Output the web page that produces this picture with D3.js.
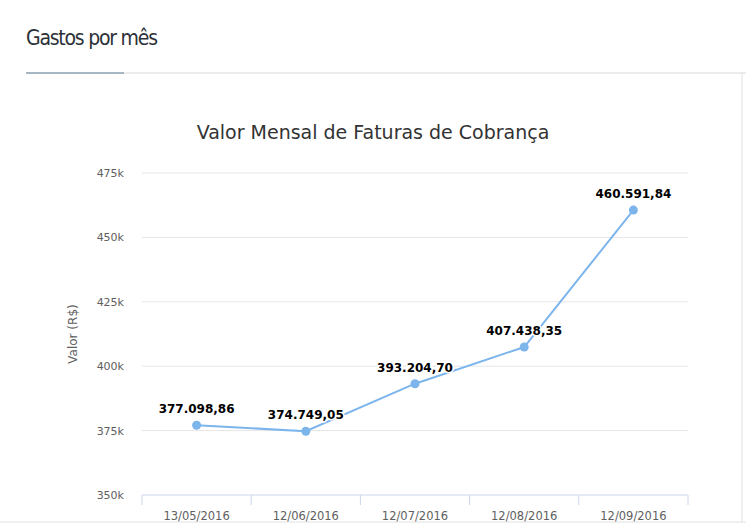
<!DOCTYPE html>
<html><head><meta charset="utf-8">
<script src="https://cdn.jsdelivr.net/npm/d3@7"></script>
<style>body{margin:0;background:#fff}</style>
</head><body>
<svg id="c" width="746" height="526"></svg>
<script>
const categories = ['13/05/2016', '12/06/2016', '12/07/2016', '12/08/2016', '12/09/2016'];
const values = [377098.86, 374749.05, 393204.70, 407438.35, 460591.84];
const labels = ['377.098,86', '374.749,05', '393.204,70', '407.438,35', '460.591,84'];
const yTicks = [350000, 375000, 400000, 425000, 450000, 475000];

const svg = d3.select('#c');
// panel header
svg.append('text').attr('x', 26).attr('y', 45)
    .style('font-family', 'DejaVu Sans Condensed, DejaVu Sans').style('font-stretch', 'condensed')
    .style('font-size', '21px').attr('fill', '#2c3138').attr('textLength', 132)
    .text('Gastos por mês');
svg.append('line').attr('x1', 26).attr('x2', 746).attr('y1', 73).attr('y2', 73).attr('stroke', '#e6e6e6').attr('stroke-width', 1.5);
svg.append('line').attr('x1', 26).attr('x2', 124).attr('y1', 73).attr('y2', 73).attr('stroke', '#8fa4b5').attr('stroke-width', 1.5);
svg.append('line').attr('x1', 0).attr('x2', 746).attr('y1', 522).attr('y2', 522).attr('stroke', '#e0e0e0');
svg.append('line').attr('x1', 742).attr('x2', 742).attr('y1', 73).attr('y2', 522).attr('stroke', '#e0e0e0');

const font = 'DejaVu Sans, Verdana, sans-serif';
svg.append('text').attr('x', 373).attr('y', 139).attr('text-anchor', 'middle')
    .style('font-family', font).style('font-size', '19px').attr('fill', '#333')
    .text('Valor Mensal de Faturas de Cobrança');

const x = d3.scaleBand().domain(categories).range([142, 688]);
const y = d3.scaleLinear().domain([350000, 475000]).range([495, 173]);

// grid
svg.append('g').selectAll('line').data(yTicks.slice(1)).join('line')
    .attr('x1', 142).attr('x2', 688).attr('y1', d => y(d)).attr('y2', d => y(d))
    .attr('stroke', '#e6e6e6');
svg.append('g').selectAll('text').data(yTicks).join('text')
    .attr('x', 124).attr('y', d => y(d) + 4).attr('text-anchor', 'end')
    .style('font-family', font).style('font-size', '11px').attr('fill', '#606060')
    .text(d => d / 1000 + 'k');
svg.append('text').attr('transform', 'translate(77,334) rotate(-90)').attr('text-anchor', 'middle')
    .style('font-family', font).style('font-size', '12px').attr('fill', '#606060').text('Valor (R$)');

// x axis
const xa = svg.append('g').attr('transform', 'translate(0,495)');
xa.append('line').attr('x1', 142).attr('x2', 688).attr('stroke', '#ccd6eb');
xa.selectAll('.tk').data(categories.concat(['end'])).join('line')
    .attr('x1', (d, i) => 142 + i * x.bandwidth()).attr('x2', (d, i) => 142 + i * x.bandwidth())
    .attr('y1', 0).attr('y2', 10).attr('stroke', '#ccd6eb');
xa.selectAll('text').data(categories).join('text')
    .attr('x', d => x(d) + x.bandwidth() / 2).attr('y', 25).attr('text-anchor', 'middle')
    .style('font-family', font).style('font-size', '11.5px').attr('fill', '#606060').text(d => d);

const cx = (d, i) => x(categories[i]) + x.bandwidth() / 2;
svg.append('path').datum(values)
    .attr('d', d3.line().x(cx).y(d => y(d)))
    .attr('fill', 'none').attr('stroke', '#7cb5ec').attr('stroke-width', 2);
svg.append('g').selectAll('circle').data(values).join('circle')
    .attr('cx', cx).attr('cy', d => y(d)).attr('r', 4.5).attr('fill', '#7cb5ec');
svg.append('g').selectAll('text').data(values).join('text')
    .attr('x', cx).attr('y', d => y(d) - 12).attr('text-anchor', 'middle')
    .style('font-family', font).style('font-size', '12px').style('font-weight', 'bold')
    .attr('fill', '#000').attr('stroke', '#fff').attr('stroke-width', 3).attr('paint-order', 'stroke')
    .text((d, i) => labels[i]);
</script>
</body></html>
